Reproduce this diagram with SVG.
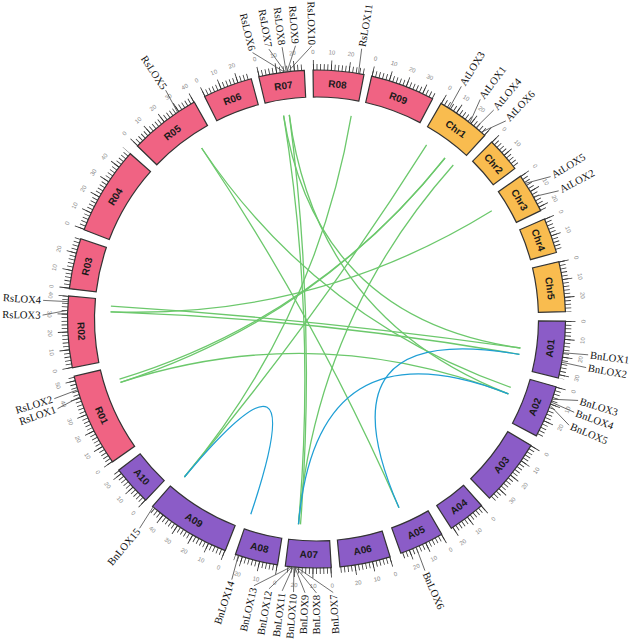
<svg xmlns="http://www.w3.org/2000/svg" width="633" height="644" viewBox="0 0 633 644">
<style>
.body{stroke:#333;stroke-width:1.2}
.r{fill:#f06383}.c{fill:#f9bc4f}.a{fill:#8b5cc7}
.tk{fill:none;stroke:#333;stroke-width:12}
.tkM{fill:none;stroke:#333;stroke-width:20}
.lab{font-family:"Liberation Sans",Arial,sans-serif;font-size:10px;font-weight:bold;fill:#1a1a1a;text-anchor:middle;dominant-baseline:central}
.tl{font-family:"Liberation Sans",Arial,sans-serif;font-size:6px;fill:#888;text-anchor:middle;dominant-baseline:central}
.gene text{font-family:"Liberation Serif","Times New Roman",serif;font-size:10.6px;fill:#111;dominant-baseline:central}
.gene path{fill:none;stroke:#555;stroke-width:0.8}
.out{text-anchor:start}.in{text-anchor:end}
#links path{fill:none;stroke-width:1.3}
.g{stroke:#6cc86c}.b{stroke:#1f9fd5}
</style>
<rect width="633" height="644" fill="#fff"/>
<g transform="translate(316.5,319)">
<g id="links">
<path class="g" d="M-32.9,-203.4Q0,0 -18,205.2"/>
<path class="g" d="M-27.2,-204.2Q0,0 -16,205.4"/>
<path class="g" d="M-27.2,-204.2Q0,0 191.9,74.8"/>
<path class="g" d="M-32.9,-203.4Q0,0 203.9,29"/>
<path class="g" d="M34.7,-203.1Q0,0 -132.1,158"/>
<path class="g" d="M-114.9,-171Q0,0 82.5,188.8"/>
<path class="g" d="M-114.9,-171Q0,0 194.3,68.4"/>
<path class="g" d="M-205.6,-12.9Q0,0 203.9,29"/>
<path class="g" d="M-205.9,-7.2Q0,0 202.9,35.4"/>
<path class="g" d="M-205.9,-7.2Q0,0 175.3,-108.2"/>
<path class="g" d="M-197,60.2Q0,0 128.5,-161"/>
<path class="g" d="M-196,63.3Q0,0 191.9,74.8"/>
<path class="g" d="M110.1,-174.1Q0,0 -132.1,158"/>
<path class="g" d="M136.8,-154Q0,0 -18,205.2"/>
<path class="g" d="M128.5,-161Q0,0 -196,63.3"/>
<path class="b" d="M202.9,35.4Q0,0 82.5,188.8"/>
<path class="b" d="M191.9,74.8Q0,0 -18,205.2"/>
<path class="b" d="M-65.7,195.2Q0,0 -132.1,158"/>
</g>

<g id="R01" transform="rotate(245.85)">
<path class="tk" pathLength="52.8" stroke-dasharray="0.45 1.55" d="M-46.87,-244.55A249,249 0 0 1 46.87,-244.55"/>
<path class="tkM" pathLength="52.8" stroke-dasharray="0.45 9.55" d="M-46.87,-244.55A249,249 0 0 1 46.87,-244.55"/>
<path class="body r" d="M-46.87,-244.55A249,249 0 0 1 46.87,-244.55L41.79,-218.03A222,222 0 0 0 -41.79,-218.03Z"/>
<text class="lab" transform="translate(0,-235.5) rotate(180)">R01</text>
<text class="tl" transform="rotate(-10.85) translate(0,-267) rotate(180)">0</text>
<text class="tl" transform="rotate(-6.74) translate(0,-267) rotate(180)">10</text>
<text class="tl" transform="rotate(-2.63) translate(0,-267) rotate(180)">20</text>
<text class="tl" transform="rotate(1.48) translate(0,-267) rotate(180)">30</text>
<text class="tl" transform="rotate(5.59) translate(0,-267) rotate(180)">40</text>
<text class="tl" transform="rotate(9.7) translate(0,-267) rotate(180)">50</text>
</g>
<g id="R02" transform="rotate(267)">
<path class="tk" pathLength="40.4" stroke-dasharray="0.45 1.55" d="M-35.94,-246.39A249,249 0 0 1 35.94,-246.39"/>
<path class="tkM" pathLength="40.4" stroke-dasharray="0.45 9.55" d="M-35.94,-246.39A249,249 0 0 1 35.94,-246.39"/>
<path class="body r" d="M-35.94,-246.39A249,249 0 0 1 35.94,-246.39L32.05,-219.68A222,222 0 0 0 -32.05,-219.68Z"/>
<text class="lab" transform="translate(0,-235.5) rotate(180)">R02</text>
<text class="tl" transform="rotate(-8.3) translate(0,-267) rotate(180)">0</text>
<text class="tl" transform="rotate(-4.19) translate(0,-267) rotate(180)">10</text>
<text class="tl" transform="rotate(-0.08) translate(0,-267) rotate(180)">20</text>
<text class="tl" transform="rotate(4.03) translate(0,-267) rotate(180)">30</text>
<text class="tl" transform="rotate(8.14) translate(0,-267) rotate(180)">40</text>
</g>
<g id="R03" transform="rotate(282.9)">
<path class="tk" pathLength="28.7" stroke-dasharray="0.45 1.55" d="M-25.59,-247.68A249,249 0 0 1 25.59,-247.68"/>
<path class="tkM" pathLength="28.7" stroke-dasharray="0.45 9.55" d="M-25.59,-247.68A249,249 0 0 1 25.59,-247.68"/>
<path class="body r" d="M-25.59,-247.68A249,249 0 0 1 25.59,-247.68L22.82,-220.82A222,222 0 0 0 -22.82,-220.82Z"/>
<text class="lab" transform="translate(0,-235.5)">R03</text>
<text class="tl" transform="rotate(-5.9) translate(0,-267)">0</text>
<text class="tl" transform="rotate(-1.79) translate(0,-267)">10</text>
<text class="tl" transform="rotate(2.32) translate(0,-267)">20</text>
</g>
<g id="R04" transform="rotate(301.3)">
<path class="tk" pathLength="50.1" stroke-dasharray="0.45 1.55" d="M-44.52,-244.99A249,249 0 0 1 44.52,-244.99"/>
<path class="tkM" pathLength="50.1" stroke-dasharray="0.45 9.55" d="M-44.52,-244.99A249,249 0 0 1 44.52,-244.99"/>
<path class="body r" d="M-44.52,-244.99A249,249 0 0 1 44.52,-244.99L39.69,-218.42A222,222 0 0 0 -39.69,-218.42Z"/>
<text class="lab" transform="translate(0,-235.5)">R04</text>
<text class="tl" transform="rotate(-10.3) translate(0,-267)">0</text>
<text class="tl" transform="rotate(-6.19) translate(0,-267)">10</text>
<text class="tl" transform="rotate(-2.08) translate(0,-267)">20</text>
<text class="tl" transform="rotate(2.03) translate(0,-267)">30</text>
<text class="tl" transform="rotate(6.14) translate(0,-267)">40</text>
</g>
<g id="R05" transform="rotate(322.3)">
<path class="tk" pathLength="40.4" stroke-dasharray="0.45 1.55" d="M-35.94,-246.39A249,249 0 0 1 35.94,-246.39"/>
<path class="tkM" pathLength="40.4" stroke-dasharray="0.45 9.55" d="M-35.94,-246.39A249,249 0 0 1 35.94,-246.39"/>
<path class="body r" d="M-35.94,-246.39A249,249 0 0 1 35.94,-246.39L32.05,-219.68A222,222 0 0 0 -32.05,-219.68Z"/>
<text class="lab" transform="translate(0,-235.5)">R05</text>
<text class="tl" transform="rotate(-8.3) translate(0,-267)">0</text>
<text class="tl" transform="rotate(-4.19) translate(0,-267)">10</text>
<text class="tl" transform="rotate(-0.08) translate(0,-267)">20</text>
<text class="tl" transform="rotate(4.03) translate(0,-267)">30</text>
<text class="tl" transform="rotate(8.14) translate(0,-267)">40</text>
</g>
<g id="R06" transform="rotate(339.05)">
<path class="tk" pathLength="28" stroke-dasharray="0.45 1.55" d="M-24.95,-247.75A249,249 0 0 1 24.95,-247.75"/>
<path class="tkM" pathLength="28" stroke-dasharray="0.45 9.55" d="M-24.95,-247.75A249,249 0 0 1 24.95,-247.75"/>
<path class="body r" d="M-24.95,-247.75A249,249 0 0 1 24.95,-247.75L22.24,-220.88A222,222 0 0 0 -22.24,-220.88Z"/>
<text class="lab" transform="translate(0,-235.5)">R06</text>
<text class="tl" transform="rotate(-5.75) translate(0,-267)">0</text>
<text class="tl" transform="rotate(-1.64) translate(0,-267)">10</text>
<text class="tl" transform="rotate(2.47) translate(0,-267)">20</text>
</g>
<g id="R07" transform="rotate(351.9)">
<path class="tk" pathLength="25.8" stroke-dasharray="0.45 1.55" d="M-23,-247.94A249,249 0 0 1 23,-247.94"/>
<path class="tkM" pathLength="25.8" stroke-dasharray="0.45 9.55" d="M-23,-247.94A249,249 0 0 1 23,-247.94"/>
<path class="body r" d="M-23,-247.94A249,249 0 0 1 23,-247.94L20.51,-221.05A222,222 0 0 0 -20.51,-221.05Z"/>
<text class="lab" transform="translate(0,-235.5)">R07</text>
<text class="tl" transform="rotate(-5.3) translate(0,-267)">0</text>
<text class="tl" transform="rotate(-1.19) translate(0,-267)">10</text>
<text class="tl" transform="rotate(2.92) translate(0,-267)">20</text>
</g>
<g id="R08" transform="rotate(5.1)">
<path class="tk" pathLength="28.7" stroke-dasharray="0.45 1.55" d="M-25.59,-247.68A249,249 0 0 1 25.59,-247.68"/>
<path class="tkM" pathLength="28.7" stroke-dasharray="0.45 9.55" d="M-25.59,-247.68A249,249 0 0 1 25.59,-247.68"/>
<path class="body r" d="M-25.59,-247.68A249,249 0 0 1 25.59,-247.68L22.82,-220.82A222,222 0 0 0 -22.82,-220.82Z"/>
<text class="lab" transform="translate(0,-235.5)">R08</text>
<text class="tl" transform="rotate(-5.9) translate(0,-267)">0</text>
<text class="tl" transform="rotate(-1.79) translate(0,-267)">10</text>
<text class="tl" transform="rotate(2.32) translate(0,-267)">20</text>
</g>
<g id="R09" transform="rotate(20.3)">
<path class="tk" pathLength="36.5" stroke-dasharray="0.45 1.55" d="M-32.5,-246.87A249,249 0 0 1 32.5,-246.87"/>
<path class="tkM" pathLength="36.5" stroke-dasharray="0.45 9.55" d="M-32.5,-246.87A249,249 0 0 1 32.5,-246.87"/>
<path class="body r" d="M-32.5,-246.87A249,249 0 0 1 32.5,-246.87L28.98,-220.1A222,222 0 0 0 -28.98,-220.1Z"/>
<text class="lab" transform="translate(0,-235.5)">R09</text>
<text class="tl" transform="rotate(-7.5) translate(0,-267)">0</text>
<text class="tl" transform="rotate(-3.39) translate(0,-267)">10</text>
<text class="tl" transform="rotate(0.72) translate(0,-267)">20</text>
<text class="tl" transform="rotate(4.83) translate(0,-267)">30</text>
</g>
<g id="Chr1" transform="rotate(36.25)">
<path class="tk" pathLength="30.4" stroke-dasharray="0.45 1.55" d="M-27.11,-247.52A249,249 0 0 1 27.11,-247.52"/>
<path class="tkM" pathLength="30.4" stroke-dasharray="0.45 9.55" d="M-27.11,-247.52A249,249 0 0 1 27.11,-247.52"/>
<path class="body c" d="M-27.11,-247.52A249,249 0 0 1 27.11,-247.52L24.17,-220.68A222,222 0 0 0 -24.17,-220.68Z"/>
<text class="lab" transform="translate(0,-235.5)">Chr1</text>
<text class="tl" transform="rotate(-6.25) translate(0,-267)">0</text>
<text class="tl" transform="rotate(-2.14) translate(0,-267)">10</text>
<text class="tl" transform="rotate(1.97) translate(0,-267)">20</text>
</g>
<g id="Chr2" transform="rotate(48.75)">
<path class="tk" pathLength="19.7" stroke-dasharray="0.45 1.55" d="M-17.59,-248.38A249,249 0 0 1 17.59,-248.38"/>
<path class="tkM" pathLength="19.7" stroke-dasharray="0.45 9.55" d="M-17.59,-248.38A249,249 0 0 1 17.59,-248.38"/>
<path class="body c" d="M-17.59,-248.38A249,249 0 0 1 17.59,-248.38L15.68,-221.45A222,222 0 0 0 -15.68,-221.45Z"/>
<text class="lab" transform="translate(0,-235.5)">Chr2</text>
<text class="tl" transform="rotate(-4.05) translate(0,-267)">0</text>
<text class="tl" transform="rotate(0.06) translate(0,-267)">10</text>
</g>
<g id="Chr3" transform="rotate(59.6)">
<path class="tk" pathLength="22.4" stroke-dasharray="0.45 1.55" d="M-19.97,-248.2A249,249 0 0 1 19.97,-248.2"/>
<path class="tkM" pathLength="22.4" stroke-dasharray="0.45 9.55" d="M-19.97,-248.2A249,249 0 0 1 19.97,-248.2"/>
<path class="body c" d="M-19.97,-248.2A249,249 0 0 1 19.97,-248.2L17.8,-221.29A222,222 0 0 0 -17.8,-221.29Z"/>
<text class="lab" transform="translate(0,-235.5)">Chr3</text>
<text class="tl" transform="rotate(-4.6) translate(0,-267)">0</text>
<text class="tl" transform="rotate(-0.49) translate(0,-267)">10</text>
<text class="tl" transform="rotate(3.62) translate(0,-267)">20</text>
</g>
<g id="Chr4" transform="rotate(70.4)">
<path class="tk" pathLength="20" stroke-dasharray="0.45 1.55" d="M-17.8,-248.36A249,249 0 0 1 17.8,-248.36"/>
<path class="tkM" pathLength="20" stroke-dasharray="0.45 9.55" d="M-17.8,-248.36A249,249 0 0 1 17.8,-248.36"/>
<path class="body c" d="M-17.8,-248.36A249,249 0 0 1 17.8,-248.36L15.87,-221.43A222,222 0 0 0 -15.87,-221.43Z"/>
<text class="lab" transform="translate(0,-235.5)">Chr4</text>
<text class="tl" transform="rotate(-4.1) translate(0,-267)">0</text>
<text class="tl" transform="rotate(0.01) translate(0,-267)">10</text>
</g>
<g id="Chr5" transform="rotate(82.5)">
<path class="tk" pathLength="28.2" stroke-dasharray="0.45 1.55" d="M-25.16,-247.73A249,249 0 0 1 25.16,-247.73"/>
<path class="tkM" pathLength="28.2" stroke-dasharray="0.45 9.55" d="M-25.16,-247.73A249,249 0 0 1 25.16,-247.73"/>
<path class="body c" d="M-25.16,-247.73A249,249 0 0 1 25.16,-247.73L22.44,-220.86A222,222 0 0 0 -22.44,-220.86Z"/>
<text class="lab" transform="translate(0,-235.5)">Chr5</text>
<text class="tl" transform="rotate(-5.8) translate(0,-267)">0</text>
<text class="tl" transform="rotate(-1.69) translate(0,-267)">10</text>
<text class="tl" transform="rotate(2.42) translate(0,-267)">20</text>
</g>
<g id="A01" transform="rotate(97.1)">
<path class="tk" pathLength="32.1" stroke-dasharray="0.45 1.55" d="M-28.62,-247.35A249,249 0 0 1 28.62,-247.35"/>
<path class="tkM" pathLength="32.1" stroke-dasharray="0.45 9.55" d="M-28.62,-247.35A249,249 0 0 1 28.62,-247.35"/>
<path class="body a" d="M-28.62,-247.35A249,249 0 0 1 28.62,-247.35L25.52,-220.53A222,222 0 0 0 -25.52,-220.53Z"/>
<text class="lab" transform="translate(0,-235.5) rotate(180)">A01</text>
<text class="tl" transform="rotate(-6.6) translate(0,-267) rotate(180)">0</text>
<text class="tl" transform="rotate(-2.49) translate(0,-267) rotate(180)">10</text>
<text class="tl" transform="rotate(1.62) translate(0,-267) rotate(180)">20</text>
<text class="tl" transform="rotate(5.73) translate(0,-267) rotate(180)">30</text>
</g>
<g id="A02" transform="rotate(111.9)">
<path class="tk" pathLength="29.7" stroke-dasharray="0.45 1.55" d="M-26.46,-247.59A249,249 0 0 1 26.46,-247.59"/>
<path class="tkM" pathLength="29.7" stroke-dasharray="0.45 9.55" d="M-26.46,-247.59A249,249 0 0 1 26.46,-247.59"/>
<path class="body a" d="M-26.46,-247.59A249,249 0 0 1 26.46,-247.59L23.59,-220.74A222,222 0 0 0 -23.59,-220.74Z"/>
<text class="lab" transform="translate(0,-235.5) rotate(180)">A02</text>
<text class="tl" transform="rotate(-6.1) translate(0,-267) rotate(180)">0</text>
<text class="tl" transform="rotate(-1.99) translate(0,-267) rotate(180)">10</text>
<text class="tl" transform="rotate(2.12) translate(0,-267) rotate(180)">20</text>
</g>
<g id="A03" transform="rotate(128.25)">
<path class="tk" pathLength="37.7" stroke-dasharray="0.45 1.55" d="M-33.58,-246.73A249,249 0 0 1 33.58,-246.73"/>
<path class="tkM" pathLength="37.7" stroke-dasharray="0.45 9.55" d="M-33.58,-246.73A249,249 0 0 1 33.58,-246.73"/>
<path class="body a" d="M-33.58,-246.73A249,249 0 0 1 33.58,-246.73L29.94,-219.97A222,222 0 0 0 -29.94,-219.97Z"/>
<text class="lab" transform="translate(0,-235.5) rotate(180)">A03</text>
<text class="tl" transform="rotate(-7.75) translate(0,-267) rotate(180)">0</text>
<text class="tl" transform="rotate(-3.64) translate(0,-267) rotate(180)">10</text>
<text class="tl" transform="rotate(0.47) translate(0,-267) rotate(180)">20</text>
<text class="tl" transform="rotate(4.58) translate(0,-267) rotate(180)">30</text>
</g>
<g id="A04" transform="rotate(142.85)">
<path class="tk" pathLength="21.2" stroke-dasharray="0.45 1.55" d="M-18.89,-248.28A249,249 0 0 1 18.89,-248.28"/>
<path class="tkM" pathLength="21.2" stroke-dasharray="0.45 9.55" d="M-18.89,-248.28A249,249 0 0 1 18.89,-248.28"/>
<path class="body a" d="M-18.89,-248.28A249,249 0 0 1 18.89,-248.28L16.84,-221.36A222,222 0 0 0 -16.84,-221.36Z"/>
<text class="lab" transform="translate(0,-235.5) rotate(180)">A04</text>
<text class="tl" transform="rotate(-4.35) translate(0,-267) rotate(180)">0</text>
<text class="tl" transform="rotate(-0.24) translate(0,-267) rotate(180)">10</text>
<text class="tl" transform="rotate(3.87) translate(0,-267) rotate(180)">20</text>
</g>
<g id="A05" transform="rotate(155)">
<path class="tk" pathLength="25.3" stroke-dasharray="0.45 1.55" d="M-22.57,-247.98A249,249 0 0 1 22.57,-247.98"/>
<path class="tkM" pathLength="25.3" stroke-dasharray="0.45 9.55" d="M-22.57,-247.98A249,249 0 0 1 22.57,-247.98"/>
<path class="body a" d="M-22.57,-247.98A249,249 0 0 1 22.57,-247.98L20.12,-221.09A222,222 0 0 0 -20.12,-221.09Z"/>
<text class="lab" transform="translate(0,-235.5) rotate(180)">A05</text>
<text class="tl" transform="rotate(-5.2) translate(0,-267) rotate(180)">0</text>
<text class="tl" transform="rotate(-1.09) translate(0,-267) rotate(180)">10</text>
<text class="tl" transform="rotate(3.02) translate(0,-267) rotate(180)">20</text>
</g>
<g id="A06" transform="rotate(168.7)">
<path class="tk" pathLength="28.7" stroke-dasharray="0.45 1.55" d="M-25.59,-247.68A249,249 0 0 1 25.59,-247.68"/>
<path class="tkM" pathLength="28.7" stroke-dasharray="0.45 9.55" d="M-25.59,-247.68A249,249 0 0 1 25.59,-247.68"/>
<path class="body a" d="M-25.59,-247.68A249,249 0 0 1 25.59,-247.68L22.82,-220.82A222,222 0 0 0 -22.82,-220.82Z"/>
<text class="lab" transform="translate(0,-235.5) rotate(180)">A06</text>
<text class="tl" transform="rotate(-5.9) translate(0,-267) rotate(180)">0</text>
<text class="tl" transform="rotate(-1.79) translate(0,-267) rotate(180)">10</text>
<text class="tl" transform="rotate(2.32) translate(0,-267) rotate(180)">20</text>
</g>
<g id="A07" transform="rotate(181.9)">
<path class="tk" pathLength="25.8" stroke-dasharray="0.45 1.55" d="M-23,-247.94A249,249 0 0 1 23,-247.94"/>
<path class="tkM" pathLength="25.8" stroke-dasharray="0.45 9.55" d="M-23,-247.94A249,249 0 0 1 23,-247.94"/>
<path class="body a" d="M-23,-247.94A249,249 0 0 1 23,-247.94L20.51,-221.05A222,222 0 0 0 -20.51,-221.05Z"/>
<text class="lab" transform="translate(0,-235.5) rotate(180)">A07</text>
<text class="tl" transform="rotate(-5.3) translate(0,-267) rotate(180)">0</text>
<text class="tl" transform="rotate(-1.19) translate(0,-267) rotate(180)">10</text>
<text class="tl" transform="rotate(2.92) translate(0,-267) rotate(180)">20</text>
</g>
<g id="A08" transform="rotate(194)">
<path class="tk" pathLength="24.3" stroke-dasharray="0.45 1.55" d="M-21.7,-248.05A249,249 0 0 1 21.7,-248.05"/>
<path class="tkM" pathLength="24.3" stroke-dasharray="0.45 9.55" d="M-21.7,-248.05A249,249 0 0 1 21.7,-248.05"/>
<path class="body a" d="M-21.7,-248.05A249,249 0 0 1 21.7,-248.05L19.35,-221.15A222,222 0 0 0 -19.35,-221.15Z"/>
<text class="lab" transform="translate(0,-235.5) rotate(180)">A08</text>
<text class="tl" transform="rotate(-5) translate(0,-267) rotate(180)">0</text>
<text class="tl" transform="rotate(-0.89) translate(0,-267) rotate(180)">10</text>
<text class="tl" transform="rotate(3.22) translate(0,-267) rotate(180)">20</text>
</g>
<g id="A09" transform="rotate(211.35)">
<path class="tk" pathLength="47.9" stroke-dasharray="0.45 1.55" d="M-42.59,-245.33A249,249 0 0 1 42.59,-245.33"/>
<path class="tkM" pathLength="47.9" stroke-dasharray="0.45 9.55" d="M-42.59,-245.33A249,249 0 0 1 42.59,-245.33"/>
<path class="body a" d="M-42.59,-245.33A249,249 0 0 1 42.59,-245.33L37.98,-218.73A222,222 0 0 0 -37.98,-218.73Z"/>
<text class="lab" transform="translate(0,-235.5) rotate(180)">A09</text>
<text class="tl" transform="rotate(-9.85) translate(0,-267) rotate(180)">0</text>
<text class="tl" transform="rotate(-5.74) translate(0,-267) rotate(180)">10</text>
<text class="tl" transform="rotate(-1.63) translate(0,-267) rotate(180)">20</text>
<text class="tl" transform="rotate(2.48) translate(0,-267) rotate(180)">30</text>
<text class="tl" transform="rotate(6.59) translate(0,-267) rotate(180)">40</text>
</g>
<g id="A10" transform="rotate(227.95)">
<path class="tk" pathLength="22.6" stroke-dasharray="0.45 1.55" d="M-20.19,-248.18A249,249 0 0 1 20.19,-248.18"/>
<path class="tkM" pathLength="22.6" stroke-dasharray="0.45 9.55" d="M-20.19,-248.18A249,249 0 0 1 20.19,-248.18"/>
<path class="body a" d="M-20.19,-248.18A249,249 0 0 1 20.19,-248.18L18,-221.27A222,222 0 0 0 -18,-221.27Z"/>
<text class="lab" transform="translate(0,-235.5) rotate(180)">A10</text>
<text class="tl" transform="rotate(-4.65) translate(0,-267) rotate(180)">0</text>
<text class="tl" transform="rotate(-0.54) translate(0,-267) rotate(180)">10</text>
<text class="tl" transform="rotate(3.57) translate(0,-267) rotate(180)">20</text>
</g>

<g id="genes" class="gene">
<g id="RsLOX1" transform="rotate(251.8)"><path d="M0,-249L-4.3,-274"/><text class="in" transform="rotate(-0.9) translate(0,-276) rotate(90)">RsLOX1</text></g>
<g id="RsLOX2" transform="rotate(253.5)"><path d="M0,-249L-1.9,-274"/><text class="in" transform="rotate(-0.4) translate(0,-276) rotate(90)">RsLOX2</text></g>
<g id="RsLOX3" transform="rotate(272)"><path d="M0,-249L-5.7,-273.9"/><text class="in" transform="rotate(-1.2) translate(0,-276) rotate(90)">RsLOX3</text></g>
<g id="RsLOX4" transform="rotate(274)"><path d="M0,-249L-0.5,-274"/><text class="in" transform="rotate(-0.1) translate(0,-276) rotate(90)">RsLOX4</text></g>
<g id="RsLOX5" transform="rotate(326.1)"><path d="M0,-249L2.4,-274"/><text class="in" transform="rotate(0.5) translate(0,-276) rotate(90)">RsLOX5</text></g>
<g id="RsLOX6" transform="rotate(352.6)"><path d="M0,-249L-29.1,-272.4"/><text class="in" transform="rotate(-6.1) translate(0,-276) rotate(90)">RsLOX6</text></g>
<g id="RsLOX7" transform="rotate(352.8)"><path d="M0,-249L-13.4,-273.7"/><text class="in" transform="rotate(-2.8) translate(0,-276) rotate(90)">RsLOX7</text></g>
<g id="RsLOX8" transform="rotate(353)"><path d="M0,-249L-1,-274"/><text class="in" transform="rotate(-0.2) translate(0,-276) rotate(90)">RsLOX8</text></g>
<g id="RsLOX9" transform="rotate(353.2)"><path d="M0,-249L11.5,-273.8"/><text class="in" transform="rotate(2.4) translate(0,-276) rotate(90)">RsLOX9</text></g>
<g id="RsLOX10" transform="rotate(353.4)"><path d="M0,-249L26.6,-271.7"/><text class="in" transform="rotate(5.6) translate(0,-274) rotate(90)">RsLOX10</text></g>
<g id="RsLOX11" transform="rotate(9.7)"><path d="M0,-249L-1,-274"/><text class="out" transform="rotate(-0.2) translate(0,-276) rotate(-90)">RsLOX11</text></g>
<g id="AtLOX3" transform="rotate(32.2)"><path d="M0,-249L-1.4,-274"/><text class="out" transform="rotate(-0.3) translate(0,-276) rotate(-90)">AtLOX3</text></g>
<g id="AtLOX1" transform="rotate(38)"><path d="M0,-249L-6.2,-273.9"/><text class="out" transform="rotate(-1.3) translate(0,-276) rotate(-90)">AtLOX1</text></g>
<g id="AtLOX4" transform="rotate(39.8)"><path d="M0,-249L2.4,-274"/><text class="out" transform="rotate(0.5) translate(0,-276) rotate(-90)">AtLOX4</text></g>
<g id="AtLOX6" transform="rotate(41.4)"><path d="M0,-249L11,-273.8"/><text class="out" transform="rotate(2.3) translate(0,-276) rotate(-90)">AtLOX6</text></g>
<g id="AtLOX5" transform="rotate(57)"><path d="M0,-249L8.1,-273.9"/><text class="out" transform="rotate(1.7) translate(0,-276) rotate(-90)">AtLOX5</text></g>
<g id="AtLOX2" transform="rotate(60.6)"><path d="M0,-249L7.2,-273.9"/><text class="out" transform="rotate(1.5) translate(0,-276) rotate(-90)">AtLOX2</text></g>
<g id="BnLOX1" transform="rotate(97.8)"><path d="M0,-249L-1.4,-274"/><text class="out" transform="rotate(-0.3) translate(0,-276) rotate(-90)">BnLOX1</text></g>
<g id="BnLOX2" transform="rotate(100)"><path d="M0,-249L1,-274"/><text class="out" transform="rotate(0.2) translate(0,-276) rotate(-90)">BnLOX2</text></g>
<g id="BnLOX3" transform="rotate(108.8)"><path d="M0,-249L-7.2,-273.9"/><text class="out" transform="rotate(-1.5) translate(0,-276) rotate(-90)">BnLOX3</text></g>
<g id="BnLOX4" transform="rotate(109.5)"><path d="M0,-249L1.9,-274"/><text class="out" transform="rotate(0.4) translate(0,-276) rotate(-90)">BnLOX4</text></g>
<g id="BnLOX5" transform="rotate(110.3)"><path d="M0,-249L12,-273.7"/><text class="out" transform="rotate(2.5) translate(0,-276) rotate(-90)">BnLOX5</text></g>
<g id="BnLOX6" transform="rotate(156.4)"><path d="M0,-249L1.4,-274"/><text class="out" transform="rotate(0.3) translate(0,-276) rotate(-90)">BnLOX6</text></g>
<g id="BnLOX7" transform="rotate(184.6)"><path d="M0,-249L-38.6,-271.3"/><text class="in" transform="rotate(-8.1) translate(0,-276) rotate(90)">BnLOX7</text></g>
<g id="BnLOX8" transform="rotate(184.8)"><path d="M0,-249L-22.9,-273"/><text class="in" transform="rotate(-4.8) translate(0,-276) rotate(90)">BnLOX8</text></g>
<g id="BnLOX9" transform="rotate(185)"><path d="M0,-249L-12.4,-273.7"/><text class="in" transform="rotate(-2.6) translate(0,-276) rotate(90)">BnLOX9</text></g>
<g id="BnLOX10" transform="rotate(185.2)"><path d="M0,-249L-1.9,-274"/><text class="in" transform="rotate(-0.4) translate(0,-276) rotate(90)">BnLOX10</text></g>
<g id="BnLOX11" transform="rotate(185.4)"><path d="M0,-249L8.6,-273.9"/><text class="in" transform="rotate(1.8) translate(0,-276) rotate(90)">BnLOX11</text></g>
<g id="BnLOX12" transform="rotate(185.6)"><path d="M0,-249L21,-273.2"/><text class="in" transform="rotate(4.4) translate(0,-276) rotate(90)">BnLOX12</text></g>
<g id="BnLOX13" transform="rotate(185.8)"><path d="M0,-249L35.3,-271.7"/><text class="in" transform="rotate(7.4) translate(0,-276) rotate(90)">BnLOX13</text></g>
<g id="BnLOX14" transform="rotate(198.3)"><path d="M0,-249L-1.4,-274"/><text class="in" transform="rotate(-0.3) translate(0,-276) rotate(90)">BnLOX14</text></g>
<g id="BnLOX15" transform="rotate(221)"><path d="M0,-249L-3.8,-274"/><text class="in" transform="rotate(-0.8) translate(0,-276) rotate(90)">BnLOX15</text></g>
</g>
</g>
</svg>
